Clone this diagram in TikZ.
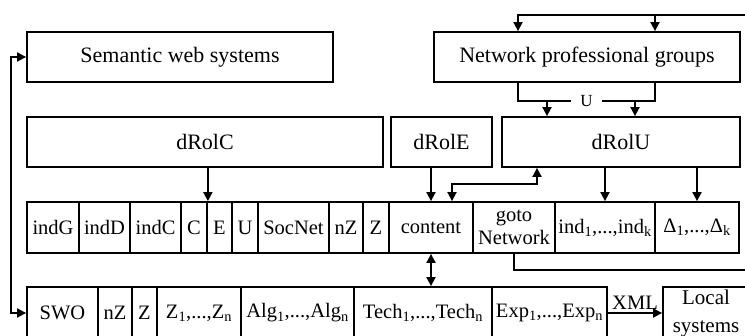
\documentclass[tikz,border=0pt]{standalone}
\usepackage{fontspec}
\setmainfont{Liberation Serif}
\usetikzlibrary{positioning, arrows.meta}

\begin{document}
\begin{tikzpicture}[x=1pt, y=-1pt,
        box/.style={draw, line width=1.8pt, minimum height=50, inner sep=0pt,
                    font=\fontsize{22}{26}\selectfont},
        cell/.style={draw, line width=1.8pt, minimum height=51, inner sep=0pt,
                     font=\fontsize{20.5}{23}\selectfont},
        line/.style={line width=1.8pt},
        arr/.style={-{Triangle[length=9pt,width=9pt]}, line width=1.8pt},
        darr/.style={{Triangle[length=9pt,width=9pt]}-{Triangle[length=9pt,width=9pt]}, line width=1.8pt},
        lbl/.style={font=\fontsize{20.5}{23}\selectfont, inner sep=3pt}
    ]
    \useasboundingbox (0,0) rectangle (745,336);
    \clip (0,0) rectangle (745,336);

    % Systems and groups
    \node[box, minimum width=306] (sws) at (180,57) {Semantic web systems};
    \node[box, minimum width=306] (npg) at (587,57) {Network professional groups};

    % Role descriptions
    \node[box, minimum width=356] (drolc) at (205,142) {dRolC};
    \node[box, minimum width=101] (drole) at (441.5,142) {dRolE};
    \node[box, minimum width=238] (drolu) at (621,142) {dRolU};

    % Role record fields
    \node[cell, minimum width=52] (indG) at (53,227.5) {indG};
    \node[cell, minimum width=51] (indD) at (104.5,227.5) {indD};
    \node[cell, minimum width=51] (indC) at (155.5,227.5) {indC};
    \node[cell, minimum width=26] (C) at (194,227.5) {C};
    \node[cell, minimum width=25] (E) at (219.5,227.5) {E};
    \node[cell, minimum width=26] (U) at (245,227.5) {U};
    \node[cell, minimum width=71] (socnet) at (293.5,227.5) {SocNet};
    \node[cell, minimum width=34] (nZ) at (346,227.5) {nZ};
    \node[cell, minimum width=26] (Z) at (376,227.5) {Z};
    \node[cell, minimum width=84] (content) at (431,227.5) {content};
    \node[cell, minimum width=82, align=center] (goto) at (514,227.5) {goto\\Network};
    \node[cell, minimum width=100] (ind) at (605,227.5)
        {ind\textsubscript{1},...,ind\textsubscript{k}};
    \node[cell, minimum width=84] (delta) at (697,227.5)
        {Δ\textsubscript{1},...,Δ\textsubscript{k}};

    % Ontology record fields
    \node[cell, minimum height=52, minimum width=71] (swo) at (62.5,313) {SWO};
    \node[cell, minimum height=52, minimum width=34] (nZ2) at (115,313) {nZ};
    \node[cell, minimum height=52, minimum width=25] (Z2) at (144.5,313) {Z};
    \node[cell, minimum height=52, minimum width=84] (zn) at (199,313)
        {Z\textsubscript{1},...,Z\textsubscript{n}};
    \node[cell, minimum height=52, minimum width=113] (alg) at (297.5,313)
        {Alg\textsubscript{1},...,Alg\textsubscript{n}};
    \node[cell, minimum height=52, minimum width=138] (tech) at (423,313)
        {Tech\textsubscript{1},...,Tech\textsubscript{n}};
    \node[cell, minimum height=52, minimum width=115] (exp) at (549.5,313)
        {Exp\textsubscript{1},...,Exp\textsubscript{n}};
    \node[cell, minimum height=52, minimum width=86, align=center,
          font=\fontsize{21}{28}\selectfont] (local) at (706,313) {Local\\systems};

    % Feedback from the network field to the groups
    \coordinate (npgL) at ([xshift=-69]npg.north);
    \coordinate (npgR) at ([xshift=68]npg.north);
    \draw[arr] (goto.south) -- ++(0,16) -- ++(250,0) -- ++(0,-255) coordinate (top) -| (npgL);
    \draw[arr] (npgR |- top) -- (npgR);

    % Union of the groups into dRolU
    \coordinate (uL) at ([xshift=-69]npg.south);
    \coordinate (uR) at ([xshift=68]npg.south);
    \coordinate (dL) at ([xshift=-74]drolu.north);
    \coordinate (dR) at ([xshift=14]drolu.north);
    \draw[line] (uL) -- ++(0,18) coordinate (uB) -- (uR |- uB)
        node[midway, fill=white, inner xsep=9pt, inner ysep=1pt,
             font=\fontsize{17}{19}\selectfont] {U} -- (uR);
    \draw[arr] (dL |- uB) -- (dL);
    \draw[arr] (dR |- uB) -- (dR);

    % Roles into the record
    \draw[arr] (drolc.south -| C.north east) -- (C.north east);
    \draw[arr] (drole.south -| content.north) -- (content.north);
    \draw[arr] (drolu.south -| ind.north) -- (ind.north);
    \draw[arr] (drolu.south -| delta.north) -- (delta.north);
    \coordinate (cU) at ([xshift=21]content.north);
    \coordinate (uC) at ([xshift=-84]drolu.south);
    \draw[darr] (cU) -- ++(0,-17) -| (uC);

    % Record, ontology and export
    \draw[darr] (content.south) -- (content.south |- tech.north);
    \draw[darr] (sws.west) -- ++(-15,0) |- (swo.west);
    \draw[arr] (exp.east) -- (local.west) node[midway, above, lbl] {XML};
\end{tikzpicture}
\end{document}
